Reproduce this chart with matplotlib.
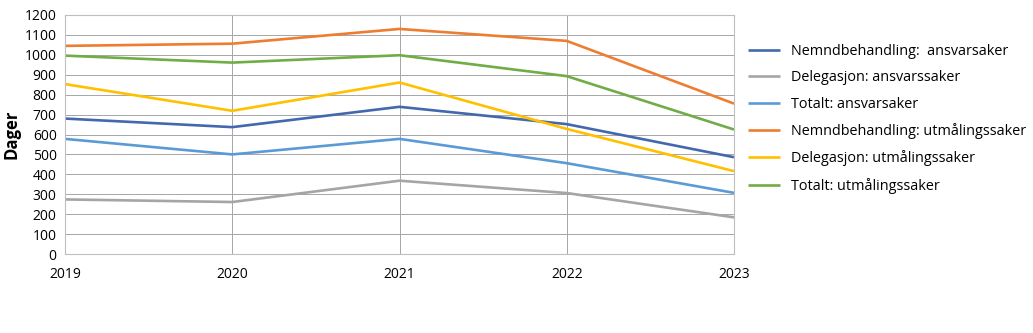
import matplotlib
matplotlib.use("Agg")
import matplotlib.pyplot as plt

plt.rcParams['font.family'] = ['Open Sans', 'DejaVu Sans']

years = [2019, 2020, 2021, 2022, 2023]

nemnd_ansvar = [680, 637, 739, 652, 486]
deleg_ansvar = [274, 261, 368, 306, 184]
totalt_ansvar = [578, 500, 578, 456, 307]
nemnd_utmaling = [1045, 1056, 1130, 1070, 755]
deleg_utmaling = [853, 719, 861, 628, 416]
totalt_utmaling = [996, 961, 998, 893, 625]

labels = [
    "Nemndbehandling:  ansvarsaker",
    "Delegasjon: ansvarssaker",
    "Totalt: ansvarsaker",
    "Nemndbehandling: utmålingssaker",
    "Delegasjon: utmålingssaker",
    "Totalt: utmålingssaker",
]
series = [nemnd_ansvar, deleg_ansvar, totalt_ansvar,
          nemnd_utmaling, deleg_utmaling, totalt_utmaling]
colors = ["#4468AE", "#A5A5A5", "#5B9BD5", "#ED7D31", "#FFC000", "#70AD47"]

fig = plt.figure(figsize=(10.33, 3.33), dpi=100)
ax = fig.add_axes([65 / 1033, (333 - 254) / 333, (734 - 65) / 1033, (254 - 15) / 333])

for vals, lab, col in zip(series, labels, colors):
    ax.plot(years, vals, color=col, lw=1.9, label=lab, solid_capstyle='butt')

ax.set_xlim(2019, 2023)
ax.set_ylim(0, 1200)
ax.set_xticks(years)
ax.set_yticks(range(0, 1201, 100))
ax.grid(True, color="#A6A6A6", lw=0.7)
ax.set_axisbelow(True)
for s in ax.spines.values():
    s.set_color("#BFBFBF")
    s.set_linewidth(0.8)
ax.tick_params(length=0, labelsize=10, colors="#000000")
ax.tick_params(axis='x', pad=9)
ax.tick_params(axis='y', pad=6)

ax.set_ylabel("Dager", fontsize=12, fontweight='bold', labelpad=3)

leg = fig.legend(loc='upper left', bbox_to_anchor=(742 / 1033, 1 - 38 / 333),
                 frameon=False, fontsize=10.4, handlelength=2.2, handletextpad=0.8,
                 labelspacing=0.79, borderaxespad=0)

fig.savefig("out.png", dpi=100)
